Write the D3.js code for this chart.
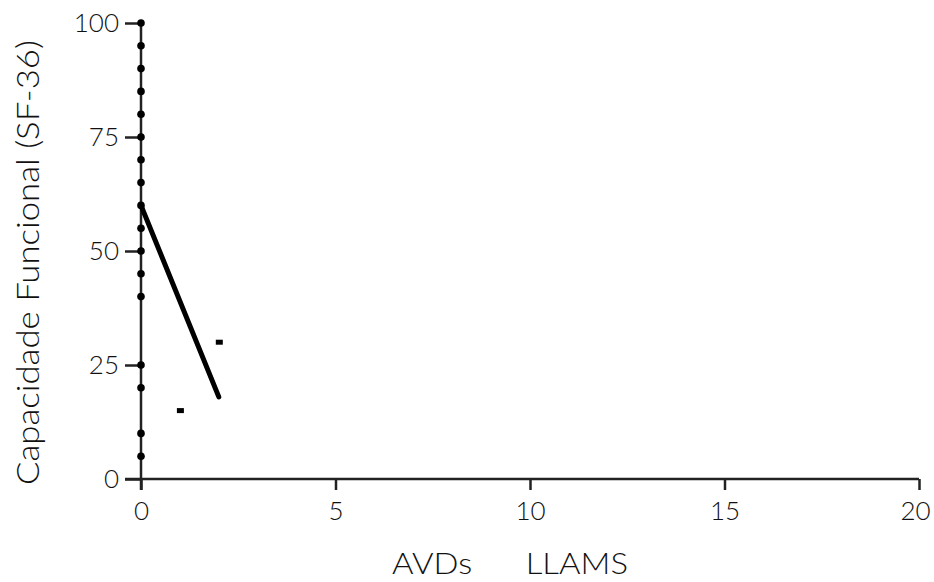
<!DOCTYPE html>
<html>
<head>
<meta charset="utf-8">
<script src="https://cdn.jsdelivr.net/npm/d3@7"></script>
<style>
  body { margin: 0; background: #fff; }
  svg text { font-family: "Lato", "DejaVu Sans", sans-serif; font-weight: 300; fill: #111; }
</style>
</head>
<body>
<svg id="chart"></svg>
<script>
// values
const xTicks = [0, 5, 10, 15, 20];
const yTicks = [0, 25, 50, 75, 100];
const dotX = [0, 0, 0, 0, 0, 0, 0, 0, 0, 0, 0, 0, 0, 0, 0, 0, 0];
const dotY = [100, 95, 90, 85, 80, 75, 70, 65, 60, 55, 50, 45, 40, 25, 20, 10, 5];
const squareX = [1, 2];
const squareY = [15, 30];
const fitX = [0, 2];
const fitY = [60, 18];
const xTitle = 'AVDs      LLAMS';
const yTitle = 'Capacidade Funcional (SF-36)';

const width = 934, height = 582;
const margin = {top: 23, right: 15, bottom: 103, left: 141};

const svg = d3.select('#chart')
    .attr('width', width)
    .attr('height', height);

const x = d3.scaleLinear().domain([0, 20]).range([margin.left, width - margin.right]);
const y = d3.scaleLinear().domain([0, 100]).range([height - margin.bottom, margin.top]);

const axisColor = '#222';

// x axis
const xAxisG = svg.append('g')
    .attr('transform', `translate(0,${y(0)})`)
    .call(d3.axisBottom(x).tickValues(xTicks).tickSize(11).tickPadding(12).tickSizeOuter(0));
xAxisG.select('.domain').remove();
xAxisG.append('line')
    .attr('x1', x(0) - 16).attr('x2', x(20))
    .attr('stroke', axisColor).attr('stroke-width', 2.5);
xAxisG.selectAll('.tick line').attr('stroke', axisColor).attr('stroke-width', 2.5);
xAxisG.selectAll('.tick text')
    .style('font-size', '26px')
    .attr('dx', d => d === 20 ? -4 : 0);

// y axis
const yAxisG = svg.append('g')
    .attr('transform', `translate(${x(0)},0)`)
    .call(d3.axisLeft(y).tickValues(yTicks).tickSize(16).tickPadding(6).tickSizeOuter(0));
yAxisG.select('.domain').remove();
yAxisG.append('line')
    .attr('y1', y(100)).attr('y2', y(0) + 11)
    .attr('stroke', axisColor).attr('stroke-width', 2.5);
yAxisG.selectAll('.tick line').attr('stroke', axisColor).attr('stroke-width', 2.5);
yAxisG.selectAll('.tick text').style('font-size', '26px');

// titles
svg.append('text')
    .attr('x', 392).attr('y', 574)
    .attr('textLength', 236)
    .attr('lengthAdjust', 'spacingAndGlyphs')
    .style('font-size', '30px')
    .attr('xml:space', 'preserve')
    .text(xTitle);

svg.append('text')
    .attr('transform', `translate(39,485) rotate(-90)`)
    .attr('textLength', 445)
    .attr('lengthAdjust', 'spacingAndGlyphs')
    .style('font-size', '31px')
    .text(yTitle);

// fit line
svg.append('line')
    .attr('x1', x(fitX[0])).attr('y1', y(fitY[0]))
    .attr('x2', x(fitX[1])).attr('y2', y(fitY[1]))
    .attr('stroke', '#000').attr('stroke-width', 5).attr('stroke-linecap', 'round');

// points
const dots = dotX.map((d, i) => ({x: d, y: dotY[i]}));
svg.selectAll('.dot')
    .data(dots)
  .join('circle')
    .attr('class', 'dot')
    .attr('cx', d => x(d.x))
    .attr('cy', d => y(d.y))
    .attr('r', 3.8)
    .attr('fill', '#000');

const squares = squareX.map((d, i) => ({x: d, y: squareY[i]}));
svg.selectAll('.sq')
    .data(squares)
  .join('rect')
    .attr('class', 'sq')
    .attr('x', d => x(d.x) - 3)
    .attr('y', d => y(d.y) - 2.5)
    .attr('width', 7)
    .attr('height', 5)
    .attr('fill', '#000');
</script>
</body>
</html>
